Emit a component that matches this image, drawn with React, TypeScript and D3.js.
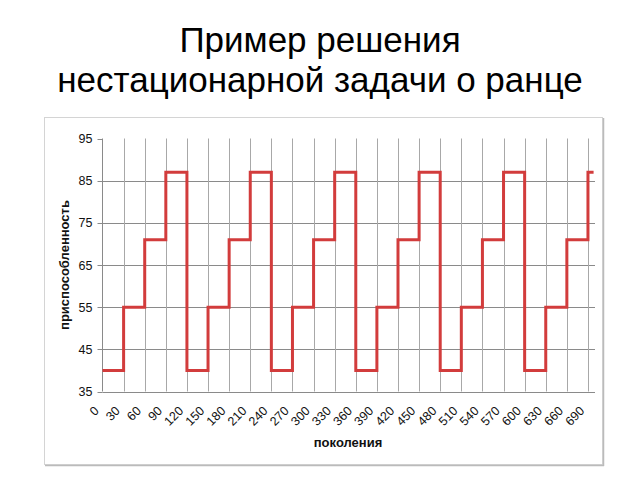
import React from "react";
import * as d3 from "d3";

const generations = [0, 30, 60, 90, 120, 150, 180, 210, 240, 270, 300, 330, 360, 390, 420, 450, 480, 510, 540, 570, 600, 630, 660, 690, 698];
const fitness = [40, 55, 71, 87, 40, 55, 71, 87, 40, 55, 71, 87, 40, 55, 71, 87, 40, 55, 71, 87, 40, 55, 71, 87, 87];
const xTicks = [0, 30, 60, 90, 120, 150, 180, 210, 240, 270, 300, 330, 360, 390, 420, 450, 480, 510, 540, 570, 600, 630, 660, 690];
const yTicks = [35, 45, 55, 65, 75, 85, 95];
const titleLines = ["Пример решения", "нестационарной задачи о ранце"];
const xTitle = "поколения";
const yTitle = "приспособленность";

export default function App() {
  const left = 102.5, right = 595, top = 138.5, bottom = 391.5;
  const x = d3.scaleLinear().domain([0, 700]).range([left, right]);
  const y = d3.scaleLinear().domain([35, 95]).range([bottom, top]);
  const pts = generations.map((g, i) => [g, fitness[i]] as [number, number]);
  const line = d3.line<[number, number]>().x(d => x(d[0])).y(d => y(d[1])).curve(d3.curveStepAfter);
  const font = "'Liberation Sans', Arial, sans-serif";
  return (
    <svg width={640} height={480} style={{ position: "absolute", left: 0, top: 0, background: "#fff" }} fontFamily={font}>
      <rect x={0} y={0} width={640} height={480} fill="#fff" />
      {titleLines.map((t, i) => (
        <text key={i} x={320} y={52 + i * 40} textAnchor="middle" fontSize={35} fill="#000">{t}</text>
      ))}
      <rect x={44.5} y={117.5} width={558} height={347} fill="#fff" stroke="#d4d4d4" strokeWidth={1} />
      <line x1={603.5} y1={118} x2={603.5} y2={466} stroke="#bbb" strokeWidth={1.5} />
      <line x1={45} y1={465.5} x2={604} y2={465.5} stroke="#bbb" strokeWidth={1.5} />
      {yTicks.filter(v => v !== 35 && v !== 95).map(v => (
        <line key={"h" + v} x1={left} x2={right} y1={Math.round(y(v)) + 0.5} y2={Math.round(y(v)) + 0.5} stroke="#8a8a8a" strokeWidth={1} />
      ))}
      {xTicks.filter(v => v !== 0).map(v => (
        <line key={"v" + v} x1={Math.round(x(v)) + 0.5} x2={Math.round(x(v)) + 0.5} y1={top} y2={bottom} stroke="#a8a8a8" strokeWidth={1} />
      ))}
      <line x1={left} x2={right} y1={Math.round(y(35)) + 0.5} y2={Math.round(y(35)) + 0.5} stroke="#8a8a8a" strokeWidth={1} />
      <line x1={left} x2={left} y1={top} y2={bottom} stroke="#8a8a8a" strokeWidth={1} />
      {yTicks.map(v => (
        <g key={"yt" + v}>
          <line x1={left - 5} x2={left} y1={Math.round(y(v)) + 0.5} y2={Math.round(y(v)) + 0.5} stroke="#8a8a8a" strokeWidth={1} />
          <text x={left - 10} y={y(v)} dy="0.36em" textAnchor="end" fontSize={12.5} fill="#111">{v}</text>
        </g>
      ))}
      {xTicks.map(v => (
        <text key={"xt" + v} transform={`translate(${x(v) - 6},${bottom + 17}) rotate(-45)`} textAnchor="end" dy="0.36em" fontSize={12.5} fill="#111">{v}</text>
      ))}
      <path d={line(pts) || ""} fill="none" stroke="#d23c3c" strokeWidth={3} />
      <text x={348} y={447} textAnchor="middle" fontSize={13} fontWeight="bold" fill="#111">{xTitle}</text>
      <text transform={`translate(69,265) rotate(-90)`} textAnchor="middle" fontSize={13} fontWeight="bold" fill="#111">{yTitle}</text>
    </svg>
  );
}
